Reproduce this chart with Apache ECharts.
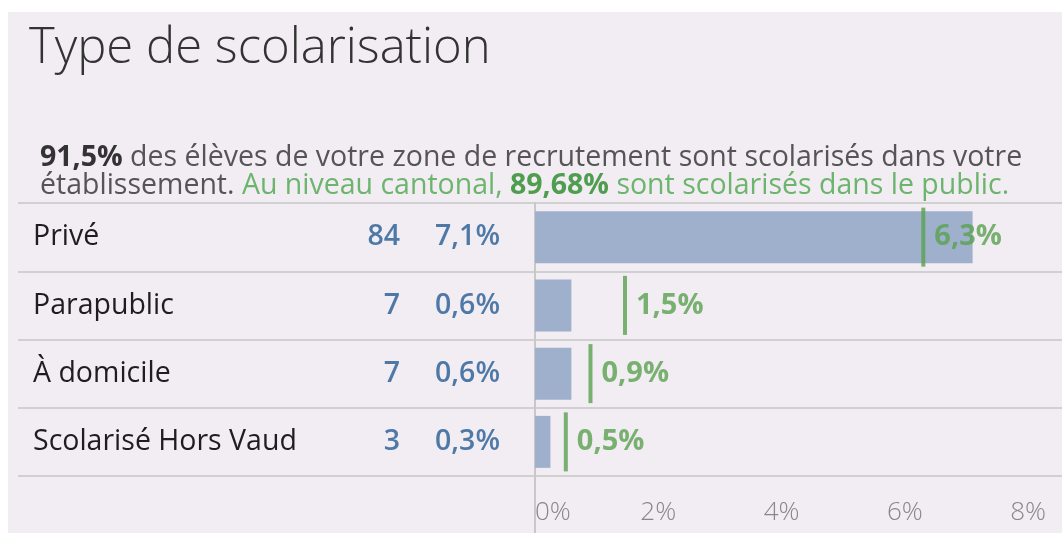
<!DOCTYPE html>
<html><head><meta charset="utf-8">
<script src="https://cdn.jsdelivr.net/npm/echarts@6/dist/echarts.min.js"></script>
<style>
html,body{margin:0;padding:0;background:#fff;}
#c{position:absolute;left:8px;top:12px;width:1054px;height:521px;background:#f2ecf3;}
</style></head><body><div id="c"></div>
<script>
const categories = ['Privé', 'Parapublic', 'À domicile', 'Scolarisé Hors Vaud'];
const counts = [84, 7, 7, 3];
const sharePct = [7.1, 0.59, 0.59, 0.25];
const cantonalPct = [6.3, 1.46, 0.9, 0.5];
const xTicks = [0, 2, 4, 6, 8];
const schoolShare = 91.5;
const cantonalPublic = 89.68;

const FONT = '"Open Sans", sans-serif';
const fmt = (v, d) => v.toFixed(d === undefined ? 1 : d).replace('.', ',') + '%';

const chart = echarts.init(document.getElementById('c'));
chart.setOption({
  animation: false,
  textStyle: { fontFamily: FONT },
  title: [
    { text: 'Type de scolarisation', left: 21, top: 13, padding: 0,
      textStyle: { fontFamily: FONT, fontSize: 49, fontWeight: 300, color: '#333' } },
    { text: '{b|' + fmt(schoolShare) + '}{g| des élèves de votre zone de recrutement sont scolarisés dans votre}\n' +
            '{g|établissement.}{gl| Au niveau cantonal, }{gb|' + fmt(cantonalPublic, 2) + '}{gl| sont scolarisés dans le public.}',
      left: 32, top: 132, padding: 0,
      textStyle: {
        rich: {
          b: { fontFamily: FONT, fontSize: 28.5, fontWeight: 700, color: '#333', lineHeight: 28 },
          g: { fontFamily: FONT, fontSize: 28.5, fontWeight: 400, color: '#555', lineHeight: 28 },
          gl: { fontFamily: FONT, fontSize: 28.5, fontWeight: 400, color: '#6cb56c', lineHeight: 28 },
          gb: { fontFamily: FONT, fontSize: 28.5, fontWeight: 700, color: '#4f9d4f', lineHeight: 28 }
        }
      } }
  ],
  grid: [
    { left: 10, top: 191, width: 517, height: 273 },
    { left: 527, top: 191, right: 0, height: 273 }
  ],
  xAxis: [
    { gridIndex: 0, type: 'value', min: 0, max: 1, show: false },
    { gridIndex: 1, type: 'value', min: 0, max: 8.55, interval: 2,
      axisLine: { show: false },
      axisTick: { show: true, customValues: [0], length: 57, lineStyle: { color: '#c8c8c8', width: 2 } },
      axisLabel: { customValues: xTicks, formatter: v => v + '%', fontFamily: FONT, fontSize: 26, fontWeight: 300,
                   color: '#888', margin: 24, alignMinLabel: 'left' },
      splitLine: { show: true, lineStyle: { color: '#f8f5f9', width: 1 } } }
  ],
  yAxis: [
    { gridIndex: 0, type: 'category', data: categories, inverse: true,
      axisLine: { show: false }, axisTick: { show: false },
      axisLabel: { inside: true, margin: 15, fontSize: 28.5, color: '#1e1e1e', padding: [4, 0, 0, 0] },
      splitLine: { show: true, lineStyle: { color: '#d0d0d0', width: 2 } } },
    { gridIndex: 0, type: 'category', position: 'right', data: counts.map(String), inverse: true,
      axisLine: { show: false }, axisTick: { show: false },
      axisLabel: { inside: true, margin: 135, fontSize: 28.5, fontWeight: 600, color: '#4e79a7', padding: [4, 0, 0, 0] } },
    { gridIndex: 0, type: 'category', position: 'right', data: sharePct.map(v => fmt(v)), inverse: true,
      axisLine: { show: false }, axisTick: { show: false },
      axisLabel: { inside: true, margin: 35, fontSize: 28.5, fontWeight: 600, color: '#4e79a7', padding: [4, 0, 0, 0] } },
    { gridIndex: 1, type: 'category', data: categories, inverse: true,
      axisLine: { show: true, lineStyle: { color: '#c8c8c8', width: 2 } },
      axisTick: { show: false }, axisLabel: { show: false },
      splitLine: { show: true, lineStyle: { color: '#d0d0d0', width: 2 } } }
  ],
  series: [
    { type: 'bar', xAxisIndex: 1, yAxisIndex: 3, data: sharePct, barWidth: 52, silent: true,
      itemStyle: { color: '#9fb0cc' } },
    { type: 'scatter', xAxisIndex: 1, yAxisIndex: 3, z: 5, silent: true,
      data: cantonalPct.map((v, i) => [v, i]),
      symbol: 'rect', symbolSize: [4, 59], itemStyle: { color: '#59a14f' },
      label: { show: true, position: 'right', distance: 9, formatter: p => fmt(p.value[0]),
               fontSize: 29, fontWeight: 700, color: '#59a14f' } }
  ]
});
</script></body></html>
